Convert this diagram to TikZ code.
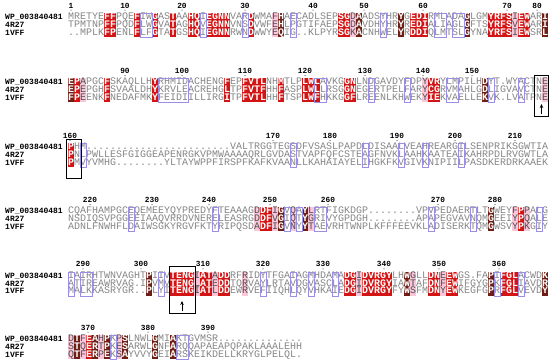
\documentclass[tikz,border=0pt]{standalone}
\usepackage{fontspec}
\setmonofont{Liberation Mono}
\usepackage{tikz}
\usetikzlibrary{arrows.meta}
\usepackage{xcolor}
\definecolor{resred}{HTML}{D21414}
\definecolor{resbrown}{HTML}{6E1E14}
\definecolor{respink}{HTML}{F9C6DA}
\definecolor{resgray}{HTML}{858585}
\definecolor{simblue}{HTML}{9A8FE3}

\newcommand\cellstrut{\rule[-1.85pt]{0pt}{7.7pt}}
\newcommand\plcell[1]{\makebox[6pt]{\cellstrut\textcolor{resgray}{#1}}}
\newcommand\rdcell[1]{{\fboxsep0pt\colorbox{resred}{\makebox[6pt]{\cellstrut\textcolor{white}{\bfseries#1}}}}}
\newcommand\bncell[1]{{\fboxsep0pt\colorbox{resbrown}{\makebox[6pt]{\cellstrut\textcolor{white}{\bfseries#1}}}}}
\newcommand\pkcell[1]{{\fboxsep0pt\colorbox{respink}{\makebox[6pt]{\cellstrut\textcolor{resgray!60!black}{#1}}}}}

\ExplSyntaxOn
\cs_new_protected:Npn \res_row:nn #1#2
  {
    \int_step_inline:nn { \str_count:n {#2} }
      {
        \str_case_e:nnF { \str_item:nn {#1} {##1} }
          {
            { r } { \rdcell { \str_item:nn {#2} {##1} } }
            { b } { \bncell { \str_item:nn {#2} {##1} } }
            { p } { \pkcell { \str_item:nn {#2} {##1} } }
          }
          { \plcell { \str_item:nn {#2} {##1} } }
      }
  }
\cs_generate_variant:Nn \res_row:nn { on }
\NewDocumentCommand \seqrow { m m } { \res_row:on {#1} {#2} }
\ExplSyntaxOff

\newcommand\maskA{......rr...r..r..r..rr.rrrr...r...pb.........rrpb......b.rrr......b...rrrrprr..b}
\newcommand\maskB{brp...r.......r...........r..rrrr..r...rrr....rr...........prr.......b.........prr}
\newcommand\maskC{r...............................................................................}
\newcommand\maskD{...............................prrpb.p.bp.............................b...prp...}
\newcommand\maskE{.............b...rrrrprrprr..p................rrprrrrr..bp..rrprr.....b.rrr....b}
\newcommand\maskF{pbprbpb.pb....b..b.....................}

\begin{document}
\begin{tikzpicture}[
        x=1pt, y=-1pt,
        seq/.style={anchor=base west, inner sep=0pt, font=\fontsize{10}{8}\selectfont\ttfamily},
        seqname/.style={anchor=base west, inner sep=0pt, font=\fontsize{8}{8}\selectfont\ttfamily\bfseries},
        num/.style={anchor=base, inner sep=0pt, font=\fontsize{7.8}{8}\selectfont\ttfamily\bfseries},
        simframe/.style={draw=simblue, line width=0.5pt},
        markbox/.style={draw=black, line width=0.7pt},
        >={Stealth[length=4pt, width=3.5pt]},
      ]
        \useasboundingbox (0,0) rectangle (550,363);

        \node[seqname] (wpA) at (5,19.5) {WP\_003840481};
        \node[seqname] (rrA) at (5,27.3) {4R27};
        \node[seqname] (vfA) at (5,35.1) {1VFF};
        \node[seq] (wpseqA) at (68,19.5) {\seqrow{\maskA}{MRETYEFFPQEFIWGASTAAHQIEGNNVARDWMAFHAECADLSEPSGDAADSYHRYGEDIRMLADAGLGMYRFSIEWARI}};
        \node[seq] (rrseqA) at (68,27.3) {\seqrow{\maskA}{TPMTNPFFPQDFLWGVATAGHQVEGNNVNSDVWFEHLPGTIFAEPSGDAVDHYHRYREDIALIAGLGFTSYRFSVEWARI}};
        \node[seq] (vfseqA) at (68,35.1) {\seqrow{\maskA}{..MPLKFPENLFLFGTATGSHQIEGNNRWNDWWYEQIG..KLPYRSGKACNHWELYRDDIQLMTSLGYNAYRFSIEWSRL}};
        \foreach \x/\t in {71/1,125/10,182/20,245/30,313/40,364/50,423/60,507/70,537/80} {
          \node[num] (n\t) at (\x,8.2) {\t};
          \fill (\x,10.2) circle (0.5);
        }
        \foreach \a/\c in {13/14,23/23,30/30,38/38,53/53,62/63,65/66}
          \draw[simframe] ({62+6*\a},13.2) rectangle ({68+6*\c},37);

        \node[seqname] (wpB) at (5,85) {WP\_003840481};
        \node[seqname] (rrB) at (5,92.8) {4R27};
        \node[seqname] (vfB) at (5,100.6) {1VFF};
        \node[seq] (wpseqB) at (68,85) {\seqrow{\maskB}{EPAPGCFSKAQLLHYRHMIDACHENGFEPFVTLNHMTLPLWLAVKGGNLNDGAVDYFDPYVRYLMPILHDYT.WYACTNE}};
        \node[seq] (rrseqB) at (68,92.8) {\seqrow{\maskB}{EPEPGHFSVAALDHYKRVLEACREHGLTPFVTFHHFASPLWLLRSGGNEGERTPELFARYCGRVMAHLGDLIGVAVCTNE}};
        \node[seq] (vfseqB) at (68,100.6) {\seqrow{\maskB}{FPEENKFNEDAFMKYFEIDIILLIRGITPFVTLHHFTSPLWFHKKGGFLREENLKHWEKYIEKVAELLEKVK.LVATPNE}};
        \foreach \x/\t in {125/90,182/100,245/110,305/120,365/130,423/140,472/150} {
          \node[num] (n\t) at (\x,73.7) {\t};
          \fill (\x,75.7) circle (0.5);
        }
        \foreach \a/\c in {16/20,42/43,51/51,57/57,64/65,71/71,76/76}
          \draw[simframe] ({62+6*\a},78.7) rectangle ({68+6*\c},102.5);
        \draw[markbox] (534,75) rectangle (548.5,116);
        \coordinate (tailB) at (541.5,114.5);
        \coordinate (tipB) at (541.5,104);
        \draw[->, line width=1pt] (tailB) -- (tipB);

        \node[seqname] (wpC) at (5,150) {WP\_003840481};
        \node[seqname] (rrC) at (5,157.8) {4R27};
        \node[seqname] (vfC) at (5,165.6) {1VFF};
        \node[seq] (wpseqC) at (68,150) {\seqrow{\maskC}{PHM........................VALTRGGTEGSDFVSASLPAPDLDISAALVEAHREARGILSENPRIKSGWTIA}};
        \node[seq] (rrseqC) at (68,157.8) {\seqrow{\maskC}{PNLPWLLESFGIGGEAPENRGKVPMWAAAAQRLGVDASTVAPFQFCSTEAGFNVKLAAHKAATEAIKAHRPDLRVGWTLA}};
        \node[seq] (vfseqC) at (68,165.6) {\seqrow{\maskC}{PMVYVMHG........YLTAYWPPFIRSPFKAFKVAANLLKAHAIAYELIHGKFKVGIVKNIPIILPASDKERDRKAAEK}};
        \foreach \x/\t in {70/160,273/170,330/180,397/190,455/200,515/210} {
          \node[num] (n\t) at (\x,138.7) {\t};
          \fill (\x,140.7) circle (0.5);
        }
        \foreach \a/\c in {3/3,38/38,50/50,56/56,60/60,66/66}
          \draw[simframe] ({62+6*\a},143.7) rectangle ({68+6*\c},167.5);
        \draw[markbox] (66.5,139) rectangle (81,178);

        \node[seqname] (wpD) at (5,214) {WP\_003840481};
        \node[seqname] (rrD) at (5,221.8) {4R27};
        \node[seqname] (vfD) at (5,229.6) {1VFF};
        \node[seq] (wpseqD) at (68,214) {\seqrow{\maskD}{CQAFHAMPGCEQEMEEYQYPREDYFTEAAAGDDFIGVQAYLRTFIGKDGP........VPVPEDAERTLTGWEYFPPALG}};
        \node[seq] (rrseqD) at (68,221.8) {\seqrow{\maskD}{NSDIQSVPGGEEIAAQVRRDVNERELEASRGDDFVGIQTYGRIVYGPDGH........APAPEGVAVNQMGEEIYPQALE}};
        \node[seq] (vfseqD) at (68,229.6) {\seqrow{\maskD}{ADNLFNWHFLDAIWSGKYRGVFKTYRIPQSDADFIGVNYYTAEVRHTWNPLKFFFEEVKLADISERKTQMGWSVYPKGIY}};
        \foreach \x/\t in {90/220,152/230,209/240,270/250,328/260,438/270,495/280} {
          \node[num] (n\t) at (\x,202.7) {\t};
          \fill (\x,204.7) circle (0.5);
        }
        \foreach \a/\c in {11/11,25/25,37/37,39/39,42/43,61/61,68/68,79/79}
          \draw[simframe] ({62+6*\a},207.7) rectangle ({68+6*\c},231.5);

        \node[seqname] (wpE) at (5,278.3) {WP\_003840481};
        \node[seqname] (rrE) at (5,286.1) {4R27};
        \node[seqname] (vfE) at (5,293.9) {1VFF};
        \node[seq] (wpseqE) at (68,278.3) {\seqrow{\maskE}{IAIRHTWNVAGHTPIIVTENGIATADDRFRIDYTFGAIAGMHDAMADGIDVRGYLHWGLLDNEEWGS.FAPIFGLACWDK}};
        \node[seq] (rrseqE) at (68,286.1) {\seqrow{\maskE}{ATIREAWRVAG.IPVMVTENGLATEDDTQRVAYLRTAVDGVASCLADGIDVRGYIAWTAFDNFEWIFGYGPKFGLIAVDR}};
        \node[seq] (vfseqE) at (68,293.9) {\seqrow{\maskE}{MALKKASRYGR..PLYITENGIATLDDEWRVEFIIQHLQYVHKAIEDGIDVRGYFYWSFMDNYEWKEGFGPRFGLVEVDY}};
        \foreach \x/\t in {83/290,141/300,203/310,263/320,323/330,384/340,439/350,499/360} {
          \node[num] (n\t) at (\x,267) {\t};
          \fill (\x,269) circle (0.5);
        }
        \foreach \a/\c in {1/1,3/4,16/16,33/33,38/38,41/41,45/45,72/72,76/76}
          \draw[simframe] ({62+6*\a},272) rectangle ({68+6*\c},295.8);
        \draw[markbox] (169,266) rectangle (195.5,313);
        \coordinate (tailE) at (182,311.5);
        \coordinate (tipE) at (182,301);
        \draw[->, line width=1pt] (tailE) -- (tipE);

        \node[seqname] (wpF) at (5,341.5) {WP\_003840481};
        \node[seqname] (rrF) at (5,349.3) {4R27};
        \node[seqname] (vfF) at (5,357.1) {1VFF};
        \node[seq] (wpseqF) at (68,341.5) {\seqrow{\maskF}{DTFEAHPKPSLNWLGMIAKTGVMSR..............}};
        \node[seq] (rrseqF) at (68,349.3) {\seqrow{\maskF}{STQERTPKESARWLGNFARQQAPAEAPQPAKLAAALEHH}};
        \node[seq] (vfseqF) at (68,357.1) {\seqrow{\maskF}{QTFERPEKSAYVVYGEIARSKEIKDELLKRYGLPELQL.}};
        \foreach \x/\t in {88/370,148/380,208/390} {
          \node[num] (n\t) at (\x,330.2) {\t};
          \fill (\x,332.2) circle (0.5);
        }
        \foreach \a/\c in {8/8,19/20}
          \draw[simframe] ({62+6*\a},335.2) rectangle ({68+6*\c},359);
      \end{tikzpicture}
\end{document}
